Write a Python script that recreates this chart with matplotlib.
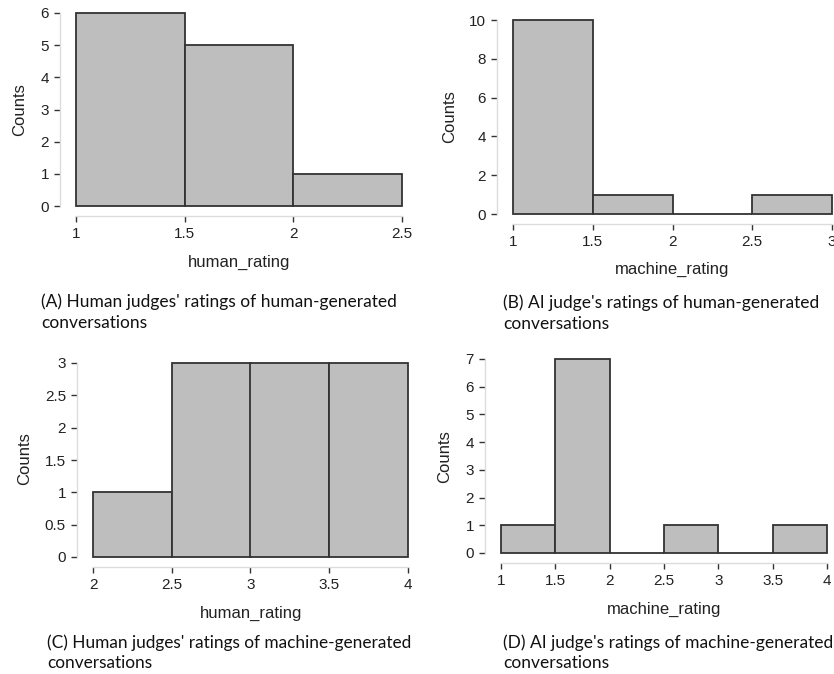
import numpy as np
import matplotlib
matplotlib.use("Agg")
import matplotlib.pyplot as plt

plt.rcParams["font.family"] = ["Liberation Sans", "DejaVu Sans"]

W, H = 834, 674
DPI = 100

# ---- data ----
bins_a = [1, 1.5, 2, 2.5]
counts_a = [6, 5, 1]
yticks_a = [0, 1, 2, 3, 4, 5, 6]
xticks_a = [1, 1.5, 2, 2.5]

bins_b = [1, 1.5, 2, 2.5, 3]
counts_b = [10, 1, 0, 1]
yticks_b = [0, 2, 4, 6, 8, 10]
xticks_b = [1, 1.5, 2, 2.5, 3]

bins_c = [2, 2.5, 3, 3.5, 4]
counts_c = [1, 3, 3, 3]
yticks_c = [0, 0.5, 1, 1.5, 2, 2.5, 3]
xticks_c = [2, 2.5, 3, 3.5, 4]

bins_d = [1, 1.5, 2, 2.5, 3, 3.5, 4]
counts_d = [1, 7, 0, 1, 0, 1]
yticks_d = [0, 1, 2, 3, 4, 5, 6, 7]
xticks_d = [1, 1.5, 2, 2.5, 3, 3.5, 4]

xlabel_a, xlabel_b = "human_rating", "machine_rating"
xlabel_c, xlabel_d = "human_rating", "machine_rating"
caption_a = ["(A) Human judges' ratings of human-generated", "conversations"]
caption_b = ["(B) AI judge's ratings of human-generated", "conversations"]
caption_c = ["(C) Human judges' ratings of machine-generated", "conversations"]
caption_d = ["(D) AI judge's ratings of machine-generated", "conversations"]

fig = plt.figure(figsize=(W / DPI, H / DPI), dpi=DPI)
fig.patch.set_facecolor("white")

def fx(x):
    return x / W

def fy(y):
    return 1 - y / H

def fmt(v):
    return "%g" % v

TICKC = "#333333"
SPINEC = "#dcdcdc"

def panel(bins, counts, yticks, xticks, xlabel, caption,
          x0px, x1px, y0px, y1px, ylab_xy, xlab_xy, cap_xy, cap_w):
    ax = fig.add_axes([fx(x0px), fy(y0px), fx(x1px) - fx(x0px), fy(y1px) - fy(y0px)])
    ax.set_xlim(bins[0], bins[-1])
    ax.set_ylim(0, yticks[-1])
    edges = np.array(bins)
    ax.bar(edges[:-1], counts, width=np.diff(edges), align="edge",
           color="#bebebe", edgecolor="#333333", linewidth=1.3, clip_on=False, zorder=3)
    for s in ["top", "right"]:
        ax.spines[s].set_visible(False)
    ax.spines["left"].set_position(("outward", 11.5))
    ax.spines["bottom"].set_position(("outward", 7))
    for s in ["left", "bottom"]:
        ax.spines[s].set_color(SPINEC)
        ax.spines[s].set_linewidth(1.0)
    ax.spines["left"].set_bounds(yticks[0], yticks[-1])
    ax.spines["bottom"].set_bounds(xticks[0], xticks[-1])
    ax.set_xticks(xticks)
    ax.set_xticklabels([fmt(v) for v in xticks])
    ax.set_yticks(yticks)
    ax.set_yticklabels([fmt(v) for v in yticks])
    ax.tick_params(axis="both", length=4.5, width=1.0, color=TICKC,
                   labelsize=11, labelcolor="#222222", pad=3.5)
    ax.patch.set_alpha(0)
    fig.text(fx(ylab_xy[0]), fy(ylab_xy[1]), "Counts", rotation=90, ha="center",
             va="center", fontsize=12, color="#222222")
    fig.text(fx(xlab_xy[0]), fy(xlab_xy[1]), xlabel, ha="center", va="center",
             fontsize=12, color="#222222")
    t1 = fig.text(fx(cap_xy[0]), fy(cap_xy[1]), caption[0], ha="left", va="baseline",
                  fontsize=11.5, family="Lato", color="#111111")
    t2 = fig.text(fx(cap_xy[0]), fy(cap_xy[2]), caption[1], ha="left", va="baseline",
                  fontsize=11.5, family="Lato", color="#111111")
    r = fig.canvas.get_renderer()
    w = t1.get_window_extent(r).width
    sz = 11.5 * cap_w / w
    t1.set_fontsize(sz)
    t2.set_fontsize(sz)
    return ax

panel(bins_a, counts_a, yticks_a, xticks_a, xlabel_a, caption_a,
      76, 402, 206, 13, (20, 110), (239, 262), (41, 307, 328), 356)
panel(bins_b, counts_b, yticks_b, xticks_b, xlabel_b, caption_b,
      513, 832, 214, 20, (450, 117), (672, 269), (503, 308, 329), 315)
panel(bins_c, counts_c, yticks_c, xticks_c, xlabel_c, caption_c,
      93, 408, 557, 363, (25, 459), (251, 613), (47, 648, 668), 365)
panel(bins_d, counts_d, yticks_d, xticks_d, xlabel_d, caption_d,
      501, 827, 553, 359, (445, 457), (664, 609), (503, 648, 668), 329)

fig.savefig("out.png", dpi=DPI, facecolor="white")
